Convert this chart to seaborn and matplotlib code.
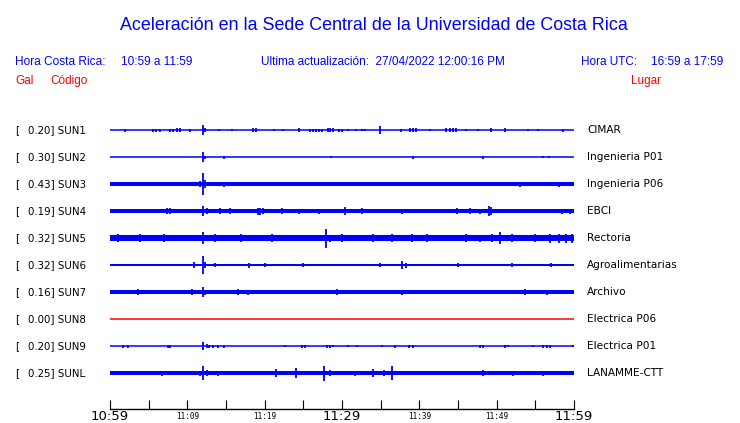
import matplotlib
matplotlib.use('Agg')
import matplotlib.pyplot as plt
import matplotlib.transforms as mtransforms
import seaborn as sns

# ----------------------------------------------
# Datos de las estaciones
# ----------------------------------------------
codigos = ['SUN1', 'SUN2', 'SUN3', 'SUN4', 'SUN5', 'SUN6', 'SUN7', 'SUN8', 'SUN9', 'SUNL']
gal = [0.20, 0.30, 0.43, 0.19, 0.32, 0.32, 0.16, 0.00, 0.20, 0.25]
lugares = ['CIMAR', 'Ingenieria P01', 'Ingenieria P06', 'EBCI', 'Rectoria',
           'Agroalimentarias', 'Archivo', 'Electrica P06', 'Electrica P01', 'LANAMME-CTT']
colores = ['blue'] * 7 + ['red'] + ['blue'] * 2

# nivel de ruido de fondo (semi-amplitud de la envolvente, px)
ruido = [0.5, 0.5, 1.7, 1.6, 3.1, 1.3, 1.8, 0.0, 0.5, 1.7]

# picos: (minuto desde 10:59, semi-amplitud px)
sun1 = [(1.9, 1.5), (5.6, 1.5), (5.9, 1.5), (6.5, 1.5), (7.8, 1.5), (8.1, 1.5), (8.7, 2), (9.1, 2),
        (10.3, 1.5), (12.0, 5), (12.3, 2), (14.1, 1), (15.8, 1), (18.5, 2), (18.9, 2), (21.2, 1),
        (22.4, 1), (24.4, 2), (25.9, 1.5), (26.3, 1.5), (26.6, 1.5), (27.0, 1.5), (27.4, 1.5),
        (28.2, 2), (28.4, 2), (28.8, 2), (29.6, 1.5), (30.0, 1.5), (30.8, 1), (31.8, 1), (32.6, 1),
        (33.0, 1), (34.9, 4), (37.6, 1.5), (38.8, 2), (39.2, 2), (39.6, 2), (41.4, 1), (43.4, 2),
        (44.0, 2), (44.4, 2), (44.7, 2), (46.0, 1), (47.6, 1), (49.3, 2), (51.1, 2), (54.1, 1),
        (55.3, 1), (58.6, 1.5)]
sun2 = [(12.0, 5), (12.3, 1.5), (14.7, 1.5), (28.6, 1), (39.2, 1.5), (48.2, 1.5), (56.0, 1), (56.8, 1)]
sun3 = [(0.8, 2.3), (4.0, 2.3), (11.6, 3), (12.0, 11), (12.3, 4), (14.7, 2.5), (17.0, 2.2),
        (24.0, 2.2), (30.0, 2.2), (38.0, 2.2), (45.0, 2.2), (53.0, 2.5), (58.0, 2.5)]
sun4 = [(3.9, 2.2), (5.6, 2.2), (7.4, 3), (7.8, 3), (12.0, 5), (12.5, 3), (14.2, 3), (15.5, 3),
        (19.1, 3.5), (19.4, 3.5), (19.8, 3), (22.2, 3), (24.5, 2.5), (27.0, 2.5), (30.4, 4),
        (32.6, 3), (37.8, 2.5), (44.9, 3), (46.6, 3), (47.8, 2.5), (49.0, 5), (49.3, 4),
        (58.5, 2.5), (59.5, 2.5)]
sun5 = [(1.0, 4), (3.9, 4), (7.0, 3.8), (12.0, 6), (13.6, 4), (17.0, 4), (21.0, 3.8), (27.9, 9.5),
        (28.4, 3.5), (30.0, 4), (34.0, 4), (36.5, 4), (39.0, 4), (41.0, 4), (46.0, 4), (47.8, 3.5),
        (49.4, 4), (50.4, 6), (52.0, 4), (55.0, 4), (56.9, 4.5), (58.0, 4.5), (59.0, 4.5), (59.8, 4.5)]
sun6 = [(10.9, 3), (12.0, 9), (12.3, 3), (13.6, 2), (18.0, 2.5), (20.0, 2), (25.0, 2), (34.9, 2),
        (37.8, 4), (38.3, 2.5), (45.0, 2), (52.0, 2), (57.0, 2)]
sun7 = [(3.6, 3), (10.6, 3), (12.0, 5), (12.3, 2.5), (16.6, 3), (17.8, 2.5), (29.4, 3), (37.8, 2.5),
        (53.7, 3), (56.5, 2.5)]
sun8 = []
sun9 = [(1.7, 1.5), (2.3, 1.5), (7.5, 1.5), (7.8, 1.5), (12.0, 4), (12.5, 2), (12.8, 1.5), (13.3, 1.5),
        (14.0, 1.5), (14.7, 1.5), (22.6, 1), (24.8, 1.5), (25.2, 1.5), (28.0, 1.5), (28.4, 1.5),
        (28.8, 1), (30.8, 1), (31.9, 1), (35.2, 1), (36.9, 1.5), (38.7, 1.5), (39.2, 1.5), (47.8, 1.5),
        (48.2, 1.5), (51.1, 1.5), (51.5, 1), (54.7, 1), (56.0, 1.5), (56.5, 1.5), (56.9, 1.5), (59.9, 1)]
sunl = [(5.0, 2), (6.7, 2.5), (11.6, 2.5), (12.0, 7), (12.5, 3), (14.0, 2.5), (21.5, 4), (24.1, 5),
        (27.7, 7.5), (28.4, 3), (31.7, 2.5), (34.0, 4), (35.4, 3), (36.5, 7), (41.8, 2), (45.9, 2),
        (48.2, 3), (52.1, 2.5), (56.0, 2.5)]
picos = [sun1, sun2, sun3, sun4, sun5, sun6, sun7, sun8, sun9, sunl]

tick_min = [0, 5, 10, 15, 20, 25, 30, 35, 40, 45, 50, 55, 60]
tick_lab = ['10:59', '', '11:09', '', '11:19', '', '11:29', '', '11:39', '', '11:49', '', '11:59']

# ----------------------------------------------
# Figura
# ----------------------------------------------
sns.set_style('white')
plt.rcParams['font.family'] = ['DejaVu Sans']
plt.rcParams['text.color'] = 'black'

W, H = 740, 423
fig = plt.figure(figsize=(W / 100, H / 100), dpi=100)
ax = fig.add_axes([110 / W, 1 - 409 / H, 464 / W, 306 / H])
ax.set_xlim(0, 60)
ax.set_ylim(10.333, -1)
amp = 1 / 27  # px -> unidades de traza

for i, cod in enumerate(codigos):
    c = colores[i]
    ax.plot([0, 60], [i, i], color=c, lw=1.1, solid_capstyle='butt', snap=True)
    if ruido[i] > 0.6:
        ax.fill_between([0, 60], i - ruido[i] * amp, i + ruido[i] * amp, color=c, lw=0)
    if picos[i]:
        t = [p[0] for p in picos[i]]
        a = [p[1] * amp for p in picos[i]]
        ax.vlines(t, [i - v for v in a], [i + v for v in a], color=c, lw=1.3)

for s in ['left', 'right', 'top']:
    ax.spines[s].set_visible(False)
ax.spines['bottom'].set_color('black')
ax.spines['bottom'].set_linewidth(1.0)
ax.set_yticks([])
ax.set_xticks(tick_min)
ax.set_xticklabels(tick_lab)
ax.tick_params(axis='x', bottom=True, direction='in', length=6.5, width=0.8, pad=1,
               color='black', labelcolor='black')
for k, lab in enumerate(ax.get_xticklabels()):
    if k % 6 == 0:
        lab.set_fontsize(9.5)
        lab.set_fontfamily('DejaVu Sans')
    else:
        lab.set_fontsize(5.5)
        lab.set_fontfamily('DejaVu Sans Mono')
        lab.set_y(-0.005)

# etiquetas de las trazas
tr = mtransforms.blended_transform_factory(fig.transFigure, ax.transData)
for i, cod in enumerate(codigos):
    ax.text(15 / W, i, '[', transform=tr, fontsize=7.4, va='center', ha='left', color='black')
    ax.text(28 / W, i, f'{gal[i]:.2f}] {cod}', transform=tr, fontsize=7.4, va='center', ha='left',
            color='black')
    ax.text(587 / W, i, lugares[i], transform=tr, fontsize=7.6, va='center', ha='left', color='black')

# encabezado
hf = 'Liberation Sans'
fig.text(374 / W, 1 - 30 / H, 'Aceleración en la Sede Central de la Universidad de Costa Rica',
         color='blue', fontsize=12.9, family=hf, ha='center', va='baseline')
fig.text(15 / W, 1 - 65 / H, 'Hora Costa Rica:', color='blue', fontsize=8.6, family=hf, va='baseline')
fig.text(121 / W, 1 - 65 / H, '10:59 a 11:59', color='blue', fontsize=8.5, family=hf, va='baseline')
fig.text(261 / W, 1 - 65 / H, 'Ultima actualización:  27/04/2022 12:00:16 PM', color='blue',
         fontsize=8.5, family=hf, va='baseline')
fig.text(581 / W, 1 - 65 / H, 'Hora UTC:', color='blue', fontsize=8.5, family=hf, va='baseline')
fig.text(651 / W, 1 - 65 / H, '16:59 a 17:59', color='blue', fontsize=8.5, family=hf, va='baseline')
fig.text(15 / W, 1 - 84 / H, 'Gal', color='red', fontsize=8.5, family=hf, va='baseline')
fig.text(50 / W, 1 - 84 / H, 'Código', color='red', fontsize=8.5, family=hf, va='baseline')
fig.text(631 / W, 1 - 84 / H, 'Lugar', color='red', fontsize=8.5, family=hf, va='baseline')

fig.savefig('out.png', dpi=100, facecolor='white')
